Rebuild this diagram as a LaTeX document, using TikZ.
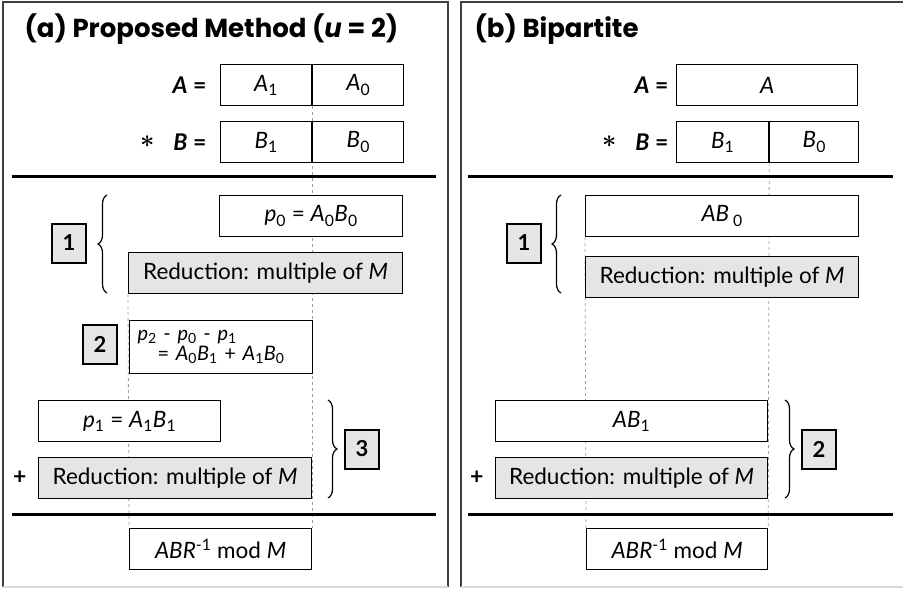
\documentclass[tikz,border=0pt]{standalone}
\usepackage{amsmath}
\usepackage{fontspec}
\setmainfont{Lato}
\newfontfamily\ttlfont{Poppins}
\usetikzlibrary{decorations.pathreplacing,positioning,backgrounds}

\newcommand{\lo}[1]{\textsubscript{#1}}
\newcommand{\hi}[1]{\textsuperscript{#1}}

\begin{document}
\begin{tikzpicture}[x=1pt,y=-1pt,
  every node/.style={font=\fontsize{22.5}{24}\selectfont},
  cell/.style={draw, line width=1.2pt, fill=white, inner sep=0pt,
    anchor=north west, minimum height=41pt},
  redbox/.style={cell, fill=gray!20},
  stepbox/.style={draw, line width=2pt, fill=gray!20, inner sep=0pt,
    minimum width=34pt, minimum height=39pt,
    font=\fontsize{22}{24}\selectfont\bfseries},
  eqn/.style={font=\fontsize{23}{26}\selectfont\bfseries},
  ttl/.style={anchor=base west, font=\ttlfont\fontsize{26}{30}\selectfont\bfseries},
  rule/.style={line width=3pt},
  guide/.style={draw=gray!75, dashed, line width=0.8pt},
  panel/.style={line width=2pt, draw=black!75},
  brc/.style={decorate, decoration={brace, amplitude=9pt}, line width=1.2pt}]
  \useasboundingbox (0,0) rectangle (903,589);

  % frames
  \draw[panel] (3,587) -- (3,2) -- (448,2) -- (448,587);
  \draw[panel] (461,587) -- (461,2) -- (904,2);
  \draw[gray!30, line width=1.5pt] (3,587) -- (448,587) (461,587) -- (903,587);

  %%% (a) proposed
  \node[ttl] (ttla) at (21,37) {(a) Proposed Method (\textit{u} = 2)};
  \node[cell, minimum width=91pt] (a1) at (220,64) {\textit{A}\lo{1}};
  \node[cell, minimum width=91pt] (a0) at (a1.north east) {\textit{A}\lo{0}};
  \node[cell, minimum width=91pt] (b1) at (220,121) {\textit{B}\lo{1}};
  \node[cell, minimum width=91pt] (b0) at (b1.north east) {\textit{B}\lo{0}};
  \node[eqn, left=10pt of a1] (aeq) {\textit{A} =};
  \node[eqn, left=10pt of b1] (beq) {\textit{B} =};
  \node[left=12pt of beq, font=\fontsize{30}{30}\selectfont] (star) {$\boldsymbol{\ast}$};
  \draw[rule] (12,176) -- (436,176);

  % step 1
  \node[cell, minimum width=183pt] (p0) at (219,195)
    {\textit{p}\lo{0} = \textit{A}\lo{0}\textit{B}\lo{0}};
  \node[redbox, minimum width=274pt] (red1) at (128,252)
    {Reduction: multiple of \textit{M}};
  \draw[brc] (107,293) -- (107,195);
  \node[stepbox] (s1) at (69,243) {1};

  % step 2
  \node[stepbox] (s2) at (100,344) {2};
  \node[cell, minimum height=53pt, inner xsep=8pt, text width=167pt,
    align=left, font=\fontsize{20}{20.5}\selectfont] (p2) at (129,320)
    {\textit{p}\lo{2} - \textit{p}\lo{0} - \textit{p}\lo{1}\\
     \hspace*{20pt}= \textit{A}\lo{0}\textit{B}\lo{1} + \textit{A}\lo{1}\textit{B}\lo{0}};

  % step 3
  \node[cell, minimum width=182pt] (p1) at (38,400)
    {\textit{p}\lo{1} = \textit{A}\lo{1}\textit{B}\lo{1}};
  \node[redbox, minimum width=273pt] (red3) at (38,457)
    {Reduction: multiple of \textit{M}};
  \node[eqn, left=8pt of red3] (plus1) {+};
  \draw[brc] (328,400) -- (328,498);
  \node[stepbox] (s3) at (362,449) {3};
  \draw[rule] (12,514) -- (436,514);
  \node[cell, minimum width=182pt] (fin1) at (129,528)
    {\textit{ABR}\hi{-1} mod \textit{M}};

  %%% (b) bipartite
  \node[ttl] (ttlb) at (471,37) {(b) Bipartite};
  \node[cell, minimum width=181pt] (aa) at (676,64) {\textit{A}};
  \node[cell, minimum width=92pt] (bb1) at (676,121) {\textit{B}\lo{1}};
  \node[cell, minimum width=89pt] (bb0) at (bb1.north east) {\textit{B}\lo{0}};
  \node[eqn, left=4pt of aa] (aeqb) {\textit{A} =};
  \node[eqn, left=4pt of bb1] (beqb) {\textit{B} =};
  \node[left=12pt of beqb, font=\fontsize{30}{30}\selectfont] (starb) {$\boldsymbol{\ast}$};
  \draw[rule] (468,176) -- (893,176);

  % step 1
  \node[cell, minimum width=273pt] (ab0) at (585,195) {\textit{AB}\,\lo{0}};
  \node[redbox, minimum width=273pt] (red4) at (585,256)
    {Reduction: multiple of \textit{M}};
  \draw[brc] (561,293) -- (561,195);
  \node[stepbox] (s4) at (524,243) {1};

  % step 2
  \node[cell, minimum width=272pt] (ab1) at (495,400) {\textit{AB}\lo{1}};
  \node[redbox, minimum width=272pt] (red5) at (495,457)
    {Reduction: multiple of \textit{M}};
  \node[eqn, left=8pt of red5] (plus2) {+};
  \draw[brc] (785,400) -- (785,498);
  \node[stepbox] (s5) at (819,449) {2};
  \draw[rule] (468,514) -- (893,514);
  \node[cell, minimum width=181pt] (fin2) at (586,528)
    {\textit{ABR}\hi{-1} mod \textit{M}};

  % guides
  \begin{scope}[on background layer]
    \draw[guide] (a1.south east) -- (fin1.north east);
    \draw[guide] (red1.south west) -- (fin1.north west);
    \draw[guide] (bb1.south east) -- (fin2.north east);
    \draw[guide] (ab0.south west) -- (fin2.north west);
  \end{scope}
\end{tikzpicture}
\end{document}
